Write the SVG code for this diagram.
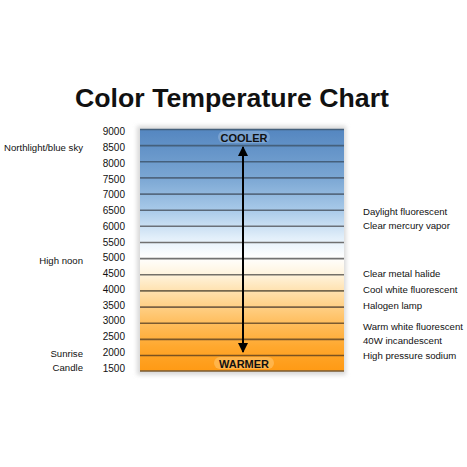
<svg xmlns="http://www.w3.org/2000/svg" width="467" height="467" viewBox="0 0 467 467">
<style>
.t{font-family:"Liberation Sans",Arial,sans-serif;fill:#111}
.v{font-size:10px;text-anchor:end}
.l{font-size:9.6px}
.r{text-anchor:end}
.b{font-weight:bold;font-size:11px;text-anchor:middle}
.ln{stroke-width:1.6}
</style>
<defs>
<linearGradient id="g" x1="0" y1="129" x2="0" y2="371" gradientUnits="userSpaceOnUse">
<stop offset="0" stop-color="#5486c0"/>
<stop offset="0.2" stop-color="#7aa6d3"/>
<stop offset="0.33" stop-color="#a6c8e8"/>
<stop offset="0.45" stop-color="#e2effa"/>
<stop offset="0.53" stop-color="#ffffff"/>
<stop offset="0.6" stop-color="#fff4de"/>
<stop offset="0.7" stop-color="#ffd99a"/>
<stop offset="0.8" stop-color="#ffbe5e"/>
<stop offset="0.9" stop-color="#ffa82e"/>
<stop offset="1" stop-color="#ff9a14"/>
</linearGradient>
<marker id="ah" viewBox="0 0 10 10" refX="9" refY="5" markerWidth="10" markerHeight="10" markerUnits="userSpaceOnUse" orient="auto">
<path d="M0,0 L10,5 L0,10 Z" fill="#000"/>
</marker>
<filter id="sh" x="-10%" y="-10%" width="120%" height="120%"><feGaussianBlur stdDeviation="2"/></filter>
</defs>
<rect width="467" height="467" fill="#fff"/>
<text class="t" x="232" y="107" font-size="26.7" font-weight="bold" text-anchor="middle">Color Temperature Chart</text>

<g id="chart">
<rect x="137" y="126" width="209" height="249" fill="#d8d8d8" filter="url(#sh)"/>
<rect x="140" y="129" width="204" height="242" fill="url(#g)"/>
<g class="ln">
<line x1="140" x2="344" y1="129.5" y2="129.5" stroke="#45607c"/>
<line x1="140" x2="344" y1="145.6" y2="145.6" stroke="#45607c"/>
<line x1="140" x2="344" y1="161.8" y2="161.8" stroke="#45607c"/>
<line x1="140" x2="344" y1="177.9" y2="177.9" stroke="#4f6680"/>
<line x1="140" x2="344" y1="194.1" y2="194.1" stroke="#566a80"/>
<line x1="140" x2="344" y1="210.2" y2="210.2" stroke="#5a6878"/>
<line x1="140" x2="344" y1="226.3" y2="226.3" stroke="#6a7078"/>
<line x1="140" x2="344" y1="242.5" y2="242.5" stroke="#707070"/>
<line x1="140" x2="344" y1="258.6" y2="258.6" stroke="#727272"/>
<line x1="140" x2="344" y1="274.8" y2="274.8" stroke="#747068"/>
<line x1="140" x2="344" y1="290.9" y2="290.9" stroke="#76684e"/>
<line x1="140" x2="344" y1="307.1" y2="307.1" stroke="#7a6244"/>
<line x1="140" x2="344" y1="323.2" y2="323.2" stroke="#7a5a30"/>
<line x1="140" x2="344" y1="339.4" y2="339.4" stroke="#7a5628"/>
<line x1="140" x2="344" y1="355.5" y2="355.5" stroke="#7a5220"/>
<line x1="140" x2="344" y1="371" y2="371" stroke="#7a5a30"/>
</g>
</g>

<g id="cooler">
<rect x="218" y="131" width="52" height="12" rx="6" fill="#8fb3da" opacity="0.6"/>
<text class="t b" x="244" y="141.5">COOLER</text>
</g>
<g id="warmer">
<rect x="214" y="357" width="60" height="12" rx="6" fill="#ffbf60" opacity="0.7"/>
<text class="t b" x="244" y="367.5">WARMER</text>
</g>

<g id="connectors">
<line x1="243" y1="240" x2="243" y2="147" stroke="#000" stroke-width="2" marker-end="url(#ah)"/>
<line x1="243" y1="240" x2="243" y2="352" stroke="#000" stroke-width="2" marker-end="url(#ah)"/>
</g>

<g id="scale" class="t v">
<text x="125" y="135">9000</text>
<text x="125" y="151">8500</text>
<text x="125" y="166.5">8000</text>
<text x="125" y="182.5">7500</text>
<text x="125" y="198">7000</text>
<text x="125" y="214">6500</text>
<text x="125" y="229.5">6000</text>
<text x="125" y="245.5">5500</text>
<text x="125" y="261">5000</text>
<text x="125" y="277">4500</text>
<text x="125" y="292.5">4000</text>
<text x="125" y="308.5">3500</text>
<text x="125" y="324">3000</text>
<text x="125" y="340">2500</text>
<text x="125" y="355.5">2000</text>
<text x="125" y="371.5">1500</text>
</g>

<g id="left-labels" class="t l r">
<text x="83" y="151">Northlight/blue sky</text>
<text x="83" y="263.5">High noon</text>
<text x="83" y="356.5">Sunrise</text>
<text x="83" y="371">Candle</text>
</g>

<g id="right-labels" class="t l">
<text x="363" y="215">Daylight fluorescent</text>
<text x="363" y="229">Clear mercury vapor</text>
<text x="363" y="276.5">Clear metal halide</text>
<text x="363" y="292.5">Cool white fluorescent</text>
<text x="363" y="308.5">Halogen lamp</text>
<text x="363" y="330">Warm white fluorescent</text>
<text x="363" y="343.5">40W incandescent</text>
<text x="363" y="359">High pressure sodium</text>
</g>
</svg>
